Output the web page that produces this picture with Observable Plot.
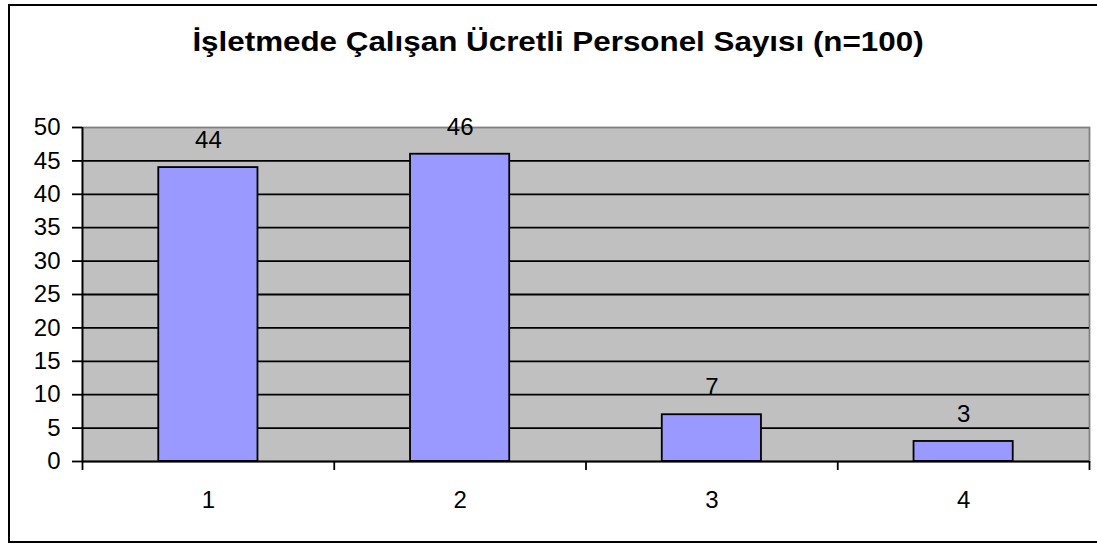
<!DOCTYPE html>
<html>
<head>
<meta charset="utf-8">
<script src="https://cdn.jsdelivr.net/npm/d3@7"></script>
<script src="https://cdn.jsdelivr.net/npm/@observablehq/plot@0.6"></script>
<style>
  html, body { margin: 0; padding: 0; background: #fff; }
  #wrap { position: relative; width: 1097px; height: 546px; overflow: hidden; font-family: "Liberation Sans", Arial, sans-serif; }
  #border { position: absolute; left: 8px; top: 4px; width: 1100px; height: 539px; border: 2px solid #000; box-sizing: border-box; }
  #title { position: absolute; left: 0; width: 1116px; top: 27px; text-align: center; font-weight: bold; font-size: 28px; line-height: 30px; color: #000; transform: scaleX(1.12); transform-origin: 558px 50%; }
  #chart { position: absolute; left: 0; top: 0; }
</style>
</head>
<body>
<div id="wrap">
  <div id="border"></div>
  <div id="title">İşletmede Çalışan Ücretli Personel Sayısı (n=100)</div>
  <div id="chart"></div>
</div>
<script>
const categories = [1, 2, 3, 4];
const values = [44, 46, 7, 3];
const yTicks = [0, 5, 10, 15, 20, 25, 30, 35, 40, 45, 50];
const gridValues = [5, 10, 15, 20, 25, 30, 35, 40, 45];
const xBoundaries = [0.5, 1.5, 2.5, 3.5, 4.5];

const data = categories.map((c, i) => ({cat: c, value: values[i]}));
const halfWidth = 0.197;

const chart = Plot.plot({
  width: 1097,
  height: 546,
  marginLeft: 82,
  marginRight: 8,
  marginTop: 127,
  marginBottom: 85,
  style: {fontFamily: "'Liberation Sans', Arial, sans-serif", fontSize: "24px", background: "transparent", color: "#000"},
  x: {type: "linear", domain: [0.5, 4.5]},
  y: {domain: [0, 50]},
  marks: [
    Plot.frame({fill: "#C0C0C0", stroke: "#808080", strokeWidth: 1.8}),
    Plot.ruleY(gridValues, {stroke: "#000", strokeWidth: 1.8}),
    Plot.rectY(data, {x1: d => d.cat - halfWidth, x2: d => d.cat + halfWidth, y1: 0, y2: "value", fill: "#9999FF", stroke: "#000", strokeWidth: 1.8}),
    Plot.axisY({ticks: yTicks, tickSize: 10, tickPadding: 12, fontSize: 24, stroke: "#000", strokeWidth: 1.8, label: null}),
    Plot.ruleX([0.5], {stroke: "#000", strokeWidth: 1.8}),
    Plot.ruleY([0], {stroke: "#000", strokeWidth: 1.8}),
    Plot.axisX({ticks: xBoundaries, tickSize: 9, tickFormat: () => "", stroke: "#000", strokeWidth: 1.8, label: null}),
    Plot.text(categories, {x: d => d, y: 0, dy: 39, text: d => String(d), fontSize: 24, fill: "#000"}),
    Plot.text(data, {x: "cat", y: "value", dy: -27, text: d => String(d.value), fontSize: 24, fill: "#000"})
  ]
});
document.getElementById("chart").appendChild(chart);
</script>
</body>
</html>
